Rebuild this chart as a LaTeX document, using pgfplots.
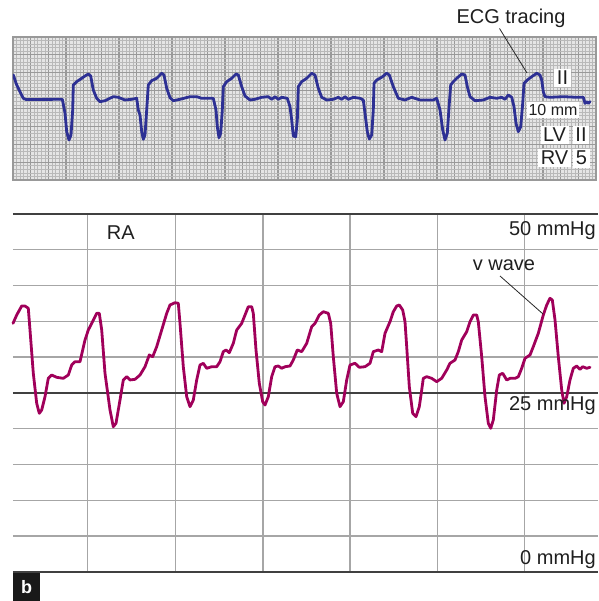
\documentclass[border=0pt]{standalone}
\usepackage{pgfplots}
\pgfplotsset{compat=1.18}
\usepackage{fontspec}
\setmainfont{Liberation Sans}
\definecolor{ecgblue}{RGB}{45,48,148}
\definecolor{ramag}{RGB}{160,0,90}
\begin{document}
\begin{tikzpicture}
\useasboundingbox (0,0) rectangle (598pt,601pt);
% ECG strip
\begin{axis}[at={(13pt,421pt)}, anchor=south west, scale only axis,
  width=583pt, height=143pt, xmin=13, xmax=596, ymin=0, ymax=40,
  xtick={13,30.667,...,597}, ytick={0,5,...,40},
  minor x tick num=4, minor y tick num=4,
  grid=both, major grid style={gray!80, line width=1.1pt},
  minor grid style={gray!55, line width=0.6pt},
  axis background/.style={fill=gray!20},
  xticklabels={}, yticklabels={}, major tick length=0pt, minor tick length=0pt,
  axis line style={gray!80, line width=1.1pt}, clip=true]
\addplot[ecgblue, line width=2.8pt, line join=round, line cap=round] coordinates {
(13.3,29.37)(16.7,26.57)(23.3,22.85)(26,22.52)(62.3,22.57)(65,18.74)(66.7,13.51)(69,11.19)(71,12.59)(72.7,19.58)(73.3,26.57)
(76.7,27.50)(81.7,28.45)(85,29.09)(88.3,29.65)(90.7,29.09)(93.3,25.17)(96.7,22.85)(100,21.90)(105,22.18)(113.3,23.30)(118.3,23.13)
(125,22.38)(131.7,22.57)(136.7,22.85)(138.3,19.58)(140,18.18)(141.7,13.51)(143.3,11.38)(145,12.59)(146.7,19.58)(148.3,26.57)
(151.7,27.78)(156.7,28.45)(161.7,29.85)(164,29.37)(166.7,25.65)(170,23.02)(173.3,22.18)(180,22.57)(190,23.30)(196.7,23.30)
(201.7,22.85)(213.3,22.85)(216,19.58)(217.3,14.91)(219,11.83)(220.7,13.06)(222.3,19.58)(223.3,26.10)(226.7,27.50)(231.7,28.45)
(236,29.65)(238.3,29.37)(241.7,26.10)(245,23.50)(250,22.38)(255,22.57)(261.7,23.13)(268.3,23.30)(271.7,22.57)(275,23.30)
(278.3,22.57)(281.7,23.13)(287.3,22.85)(290,20.50)(291.7,16.78)(293.3,12.31)(295.7,12.11)(297.3,16.78)(298.3,26.10)(301.7,27.50)
(306.7,28.45)(311.7,29.85)(315,29.37)(318.3,25.65)(321.7,23.13)(326.7,22.38)(333.3,22.57)(338.3,23.13)(341.7,22.57)(345,23.30)
(348.3,22.57)(353.3,23.13)(360,22.85)(363.3,22.38)(365,18.66)(367.3,13.51)(369.3,11.47)(371.7,12.59)(373.3,19.58)(374,27.05)
(376.7,27.97)(381.7,28.73)(386.7,29.85)(389.3,29.37)(393.3,26.10)(398.3,22.85)(405,22.38)(411.7,23.13)(420,22.38)(433.3,22.38)
(436.7,22.85)(440,19.58)(442.7,13.99)(445,11.19)(447.3,13.06)(449.3,21.45)(450.7,26.57)(453.3,27.50)(456.7,28.45)(461.7,29.65)
(465,29.37)(467.3,26.10)(470,23.30)(475,22.18)(483.3,22.38)(490,23.13)(496.7,22.85)(501.7,23.13)(505,22.57)(508.3,23.78)
(511.7,23.13)(514,20.50)(516,15.86)(518.3,13.51)(520.7,14.91)(522.7,21.45)(524,27.05)(527.3,27.97)(531.7,28.90)(536.7,29.85)
(540,29.37)(541.7,27.97)(543.3,24.70)(545,23.30)(550,23.13)(563.3,23.30)(576.7,23.13)(583.3,23.13)(585,21.45)(586.7,21.90)
(588.3,21.45)(590,21.90)};
\end{axis}
% RA pressure
\begin{axis}[at={(13pt,29pt)}, anchor=south west, scale only axis,
  width=585pt, height=358pt, xmin=13, xmax=598, ymin=0, ymax=50,
  xtick={87.7,175.4,263,350,437.7,524.5}, ytick={5,10,15,20,30,35,40,45},
  grid=major, major grid style={gray!70, line width=1.4pt},
  extra y ticks={0,25,50}, extra y tick style={major grid style={black!75, line width=1.5pt}},
  xticklabels={}, yticklabels={}, extra y tick labels={}, major tick length=0pt,
  axis line style={draw=none}, clip=false]
\addplot[ramag, line width=2.8pt, line join=round, line cap=round] coordinates {
(13,34.73)(16.7,35.89)(21.7,37.15)(25,37.15)(28.3,36.83)(30,33.80)(33.3,27.75)(36.7,23.56)(39.3,22.16)(41.7,22.63)
(45,24.48)(48.3,27.05)(51.7,27.51)(56.7,27.19)(63.3,27.05)(68.3,27.51)(71.7,28.91)(75,29.37)(80,29.37)(85,32.40)
(88.3,33.80)(91.7,34.73)(96.7,36.13)(99.3,36.13)(101.7,33.80)(105,27.75)(110,22.63)(113.3,20.29)(116,20.77)(120,24.02)
(123.3,26.82)(126.7,27.28)(130,26.82)(135,26.91)(140,27.51)(145,28.67)(149.3,30.31)(152.7,30.07)(156.7,31.47)(161.7,33.80)
(166.7,36.13)(170,37.29)(175,37.61)(178.3,37.53)(180,34.73)(183.3,28.67)(186.7,24.48)(190,23.09)(193.3,24.02)(196.7,26.82)
(200,28.91)(203.3,29.15)(206.7,28.45)(211.7,28.67)(216.7,28.67)(220,29.37)(223.3,30.77)(226,31.01)(229.3,30.63)(233.3,31.94)
(236.7,33.80)(241.7,34.73)(245,35.89)(248.3,37.05)(251.7,37.05)(253.3,36.13)(256,31.01)(259.3,26.35)(262.7,23.78)(265,23.32)
(268.3,24.48)(271.7,27.28)(275,28.67)(278.3,28.77)(281.7,28.45)(285,28.67)(290,28.77)(293.3,29.61)(297.3,31.01)(301.7,30.77)
(306.7,31.94)(311.7,34.26)(315,34.73)(319.3,35.89)(323.3,36.35)(328.3,36.13)(330.7,34.73)(333.3,30.07)(336.7,24.96)(340,23.09)
(343.3,23.78)(346.7,26.82)(350,28.91)(355,29.15)(359.3,28.59)(365,28.67)(370,29.15)(373.3,30.77)(378.3,31.01)(381.7,30.77)
(385,33.34)(390,34.96)(393.3,36.35)(396.7,37.15)(399.3,37.29)(402.7,36.59)(405,34.96)(406.7,31.47)(409.3,25.88)(412.7,22.16)
(416,21.69)(419.3,23.09)(421.7,25.42)(423.3,27.05)(426.7,27.28)(431.7,27.05)(436.7,26.58)(441.7,27.05)(446.7,28.21)(450,29.15)
(455,29.61)(458.3,30.77)(461.7,32.40)(466.7,33.56)(470,34.96)(473.3,35.89)(476.7,35.89)(478.3,34.96)(481.7,30.07)(485,24.48)
(488.3,20.77)(490.7,20.07)(493.3,21.23)(496.7,25.42)(499.3,27.51)(502.7,27.75)(506.7,26.82)(510,27.05)(515,27.05)(518.3,27.28)
(521.7,28.45)(525,29.85)(530,30.31)(533.3,31.47)(538.3,33.34)(543.3,35.89)(546.7,37.29)(550,38.23)(552.3,37.99)(555,35.20)
(558.3,30.07)(561.7,25.42)(564,23.56)(566.7,24.48)(570,26.82)(573.3,28.45)(576.7,28.77)(580,28.31)(582.7,28.67)(586.7,28.45)
(590,28.59)};
\end{axis}
\begin{scope}[x=1pt, y=-1pt, yshift=601pt]
\tikzset{lab/.style={font=\fontsize{20}{24}\selectfont, text=black!88, inner sep=0pt}}
\node[lab, anchor=base] at (511,24) {ECG tracing};
\draw[black!85, line width=0.8pt] (499.5,28.5) -- (527,73);
\node[lab, anchor=base west] at (106.7,239.3) {RA};
\node[lab, anchor=base east] at (596,236) {50 mmHg};
\node[lab, anchor=base] at (504,271) {v wave};
\draw[black!85, line width=0.8pt] (500,276) -- (543,314);
\node[lab, anchor=base east] at (596,411) {25 mmHg};
\node[lab, anchor=base east] at (596,565) {0 mmHg};
\tikzset{wb/.style={lab, fill=white, inner xsep=2.5pt, inner ysep=2.5pt}}
\node[wb, anchor=base] at (562.5,85) {II};
\node[wb, font=\fontsize{16}{19}\selectfont, inner xsep=1.5pt, inner ysep=2pt, anchor=base] at (553,115.5) {10 mm};
\node[wb, anchor=base] at (554.5,142) {LV};
\node[wb, anchor=base] at (581,142) {II};
\node[wb, anchor=base] at (554.5,165) {RV};
\node[wb, anchor=base] at (581.5,165) {5};
\fill[black!90] (13,573) rectangle (40,601);
\node[font=\fontsize{18}{21}\selectfont\bfseries, text=white, inner sep=0pt] at (26.5,587) {b};
\end{scope}
\end{tikzpicture}
\end{document}
